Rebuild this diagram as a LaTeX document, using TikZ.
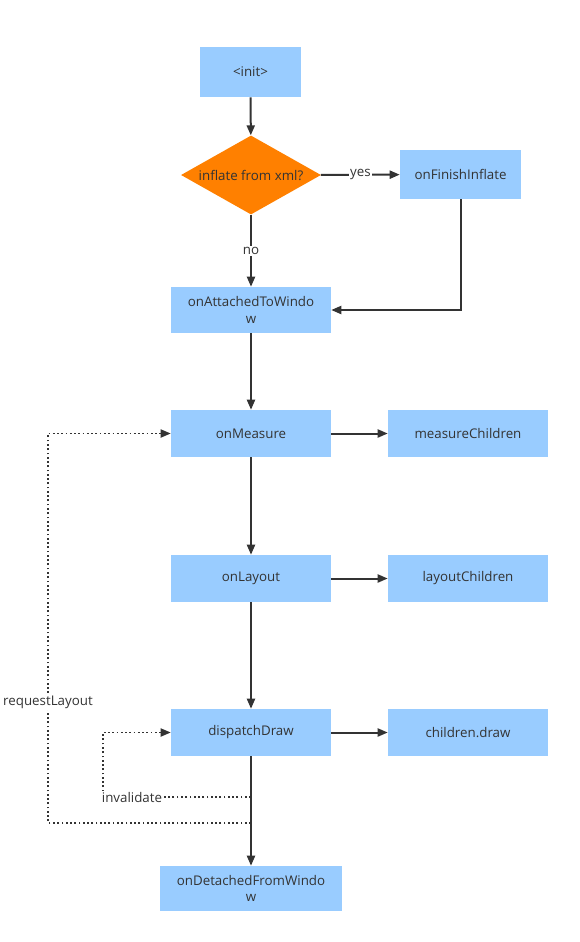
\documentclass[tikz,border=0pt]{standalone}
\usepackage{fontspec}
\setmainfont{Open Sans}
\usetikzlibrary{arrows.meta,shapes.geometric}
\definecolor{boxblue}{HTML}{99CCFF}
\definecolor{dorange}{HTML}{FF8000}
\definecolor{ink}{HTML}{333333}
\begin{document}
\begin{tikzpicture}[x=0.75pt,y=-0.75pt,
  box/.style={fill=boxblue, minimum width=120pt, minimum height=35.25pt, inner sep=1pt, text=ink, font=\fontsize{10}{12.5}\selectfont, align=center},
  decision/.style={diamond, fill=dorange, minimum width=105pt, minimum height=59.25pt, aspect=1.77, inner sep=0pt, text=ink, font=\fontsize{10}{12.5}\selectfont},
  flow/.style={-{Triangle[length=7.5pt,width=6pt]}, line width=1.5pt, draw=ink},
  dotflow/.style={-{Triangle[length=7.5pt,width=6pt]}, line width=1.3pt, draw=ink, dash pattern=on 1.3pt off 1.9pt},
  lbl/.style={fill=white, inner sep=1pt, text=ink, font=\fontsize{10}{12.5}\selectfont}]
\useasboundingbox (0,0) rectangle (579,942);
\node[box, minimum width=75.75pt, minimum height=37.5pt] (init) at (250.5,72) {<init>};
\node[decision] (dec) at (251,175) {inflate from xml?};
\node[box, minimum width=90.75pt, minimum height=36.75pt] (fin) at (460.5,174.5) {onFinishInflate};
\node[box, minimum height=34.5pt] (att) at (251,310) {onAttachedToWindo\\w};
\node[box] (meas) at (251,433.5) {onMeasure};
\node[box] (mc) at (468,433.5) {measureChildren};
\node[box] (lay) at (251,578.5) {onLayout};
\node[box] (lc) at (468,578.5) {layoutChildren};
\node[box] (dd) at (251,732.5) {dispatchDraw};
\node[box] (cd) at (468,732.5) {children.draw};
\node[box, minimum width=136.5pt, minimum height=33.75pt] (det) at (251,888.5) {onDetachedFromWindo\\w};
\coordinate (inv) at (251,797);
\coordinate (rl) at (251,823);
\draw[flow] (init) -- (dec);
\draw[flow] (dec) -- node[lbl] {yes} (fin);
\draw[flow] (dec) -- node[lbl] {no} (att);
\draw[flow] (fin.south) |- (att.east);
\draw[flow] (att) -- (meas);
\draw[flow] (meas) -- (mc);
\draw[flow] (meas) -- (lay);
\draw[flow] (lay) -- (lc);
\draw[flow] (lay) -- (dd);
\draw[flow] (dd) -- (cd);
\draw[flow] (dd) -- (det);
\draw[dotflow] (inv) -- (103,797) |- (dd.west);
\draw[dotflow] (rl) -- (48,823) |- (meas.west);
\node[lbl] (invl) at (132,797) {invalidate};
\node[lbl] (rll) at (48,702) {requestLayout};
\end{tikzpicture}
\end{document}
